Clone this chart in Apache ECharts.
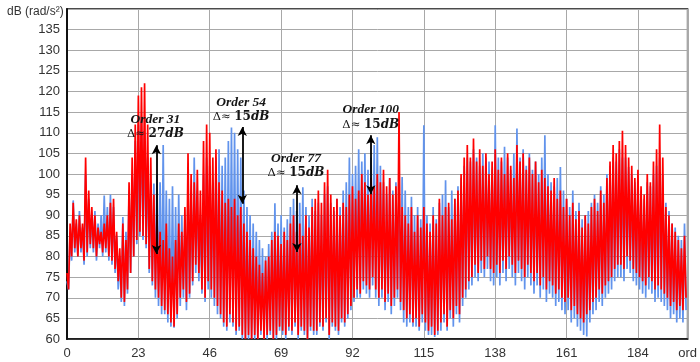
<!DOCTYPE html>
<html><head><meta charset="utf-8">
<script src="https://cdn.jsdelivr.net/npm/echarts@6/dist/echarts.min.js"></script>
<style>html,body{margin:0;padding:0;background:#fff}#c{width:700px;height:362px}</style>
</head><body><div id="c"></div>
<script>
// Order axis ticks
const xTicks = [0, 23, 46, 69, 92, 115, 138, 161, 184];
const yTicks = [60, 65, 70, 75, 80, 85, 90, 95, 100, 105, 110, 115, 120, 125, 130, 135];
// Red series: local peak at each order i, local trough at order i+0.5 (dB)
const redPeaks = [
 76, 88, 93, 89, 90, 88, 104, 96, 92, 90,
 87, 86, 88, 90, 93, 94, 86, 82, 88, 84,
 98, 104, 112, 119, 121, 122, 112, 104, 95, 90,
 86, 84, 88, 82, 80, 84, 88, 86, 92, 105,
 100, 98, 101, 96, 108, 112, 110, 104, 106, 98,
 96, 93, 94, 92, 94, 90, 92, 88, 86, 84,
 82, 80, 78, 76, 79, 80, 84, 86, 85, 83,
 86, 84, 88, 90, 86, 88, 85, 90, 87, 92,
 94, 96, 93, 98, 101, 95, 92, 94, 90, 93,
 92, 95, 97, 94, 96, 100, 98, 95, 99, 97,
 100, 98, 101, 97, 99, 95, 97, 115, 92, 90,
 88, 92, 86, 90, 87, 92, 88, 86, 90, 88,
 94, 90, 92, 93, 89, 94, 96, 100, 104, 107,
 104, 108.6, 103, 106, 102, 105, 100, 103, 106, 101,
 104, 100, 105, 102, 99, 107, 103, 105, 101, 104,
 100, 103, 98, 101, 99, 97, 96, 99, 94, 96,
 92, 94, 90, 93, 89, 91, 87, 90, 88, 92,
 94, 91, 96, 93, 99, 103, 107, 105, 108, 110.5,
 107, 104, 102, 99, 101, 97, 95, 100, 98, 103,
 106, 112, 104, 92, 90, 88, 86, 84, 82, 85
];
const redTroughs = [
 72, 80, 82, 80, 82, 79, 81, 83, 82, 80,
 83, 81, 82, 80, 79, 77, 74, 70, 69, 72,
 76, 80, 84, 86, 85, 83, 77, 74, 72, 70,
 68, 67, 66, 64, 63, 66, 70, 72, 69, 71,
 74, 78, 76, 72, 70, 74, 72, 70, 68, 66,
 64, 63, 66, 64, 62, 63, 61, 60, 61, 60,
 61, 60, 62, 60, 61, 62, 60, 61, 63, 62,
 61, 63, 62, 64, 61, 63, 62, 60, 63, 62,
 62, 64, 63, 65, 61, 64, 63, 62, 65, 64,
 66, 68, 70, 72, 71, 74, 73, 72, 75, 72,
 70, 72, 69, 71, 68, 70, 72, 69, 67, 65,
 66, 64, 65, 63, 66, 64, 62, 63, 61, 62,
 64, 66, 63, 67, 65, 68, 66, 70, 72, 74,
 75, 78, 76, 79, 77, 80, 77, 76, 78, 76,
 79, 77, 80, 78, 76, 79, 77, 75, 78, 76,
 74, 76, 73, 75, 72, 74, 73, 71, 72, 70,
 69, 70, 67, 68, 66, 65, 64, 66, 67, 69,
 70, 72, 71, 73, 74, 75, 77, 78, 78, 77,
 80, 79, 77, 76, 75, 74, 73, 75, 74, 72,
 73, 72, 71, 70, 68, 69, 67, 68, 67, 70
];
// Blue series
const bluePeaks = [
 74, 86, 93.6, 88, 91, 87, 100, 94, 90, 91,
 88, 90, 94.8, 92, 95, 92, 85, 80, 89.6, 86,
 96, 100, 108, 112, 114, 110, 104, 98, 97.7, 100,
 98, 107, 96, 94, 97, 92, 95, 90, 88, 96,
 94, 104, 96, 90, 100, 104, 102, 98, 104, 106,
 102, 104, 108, 111.3, 110, 106, 104, 96, 92, 90,
 88, 86, 84, 82, 80, 83, 86, 92.9, 88, 90,
 87, 89, 92, 94, 91, 93, 96.8, 92, 90, 94,
 91, 93, 90, 95, 97, 93, 91, 94, 92, 96,
 98, 104, 100, 102, 106, 103, 105, 101, 104, 107,
 108.9, 102, 98, 95, 99, 96, 98, 97, 99.3, 96,
 92, 94.5, 90, 92, 89, 111.8, 90, 88, 92, 89,
 93, 95, 98.5, 92, 96, 94, 97, 99, 102, 104,
 103, 106, 104, 102, 105, 104, 103, 101, 111.8, 104,
 103, 106.6, 104, 101, 105, 111, 104, 106, 102, 105,
 101, 103, 100, 104, 109.4, 100, 98, 97, 99, 101.7,
 96, 94, 92, 96, 91, 93, 89, 90, 91, 93,
 95, 93, 97, 95, 100, 102, 104, 103, 106, 104,
 104, 101.7, 100, 98, 99, 96, 94, 98, 97, 100,
 102, 104, 100, 93, 91, 88, 87, 85, 84, 88
];
const blueTroughs = [
 72, 79, 81, 80, 81, 78, 80, 82, 81, 79,
 82, 80, 81, 79, 78, 76, 72, 69, 68, 71,
 76, 80, 83, 85, 84, 82, 76, 73, 70, 68,
 66, 66, 64, 63, 62.7, 65, 68, 70, 67, 70,
 73, 76, 74, 71, 69, 72, 70, 68, 66, 65,
 63, 62, 64, 63, 61, 62, 60, 60, 60, 60,
 60, 60, 61, 60, 60, 61, 60, 60, 62, 61,
 60, 62, 61, 63, 60, 62, 61, 60, 62, 61,
 61, 63, 62, 64, 60, 63, 62, 61, 64, 63,
 65, 67, 69, 70, 70, 72, 71, 70, 73, 70,
 68, 70, 67, 69, 66, 68, 70, 67, 64, 63,
 64, 63, 63, 62, 64, 62, 61, 61, 60.5, 61,
 62, 64, 62, 65, 63, 66, 64, 68, 70, 72,
 73, 75, 74, 76, 75, 77, 74, 73, 75, 73,
 76, 74, 77, 75, 73, 76, 74, 72, 75, 73,
 71, 73, 70, 72, 69, 71, 70, 68, 69, 67,
 66, 67, 64, 65, 63, 62, 61, 60.6, 64, 66,
 67, 69, 68, 70, 71, 72, 74, 75, 75, 74,
 77, 76, 74, 73, 72, 71, 70, 72, 71, 69,
 70, 69, 68, 67, 65, 66, 64, 65, 64, 67
];
// Annotations (order, dB)
const annoLabels = ['Order 31', 'Order 54', 'Order 77', 'Order 100'];
const annoDelta = ['27', '15', '15', '15'];
const annoTextAt = [[28.5, 111.5], [56.1, 115.6], [73.8, 102.0], [97.9, 113.8]];
const arrowX = [28.8, 56.5, 74.1, 97.9];
const arrowTop = [107.0, 111.4, 97.3, 109.4];
const arrowBottom = [80.6, 92.8, 81.1, 95.1];

function build(peaks, troughs) {
  const out = [];
  for (let i = 0; i < peaks.length; i++) {
    out.push([i, peaks[i]]);
    out.push([i + 0.5, troughs[i]]);
  }
  return out;
}

const chart = echarts.init(document.getElementById('c'), null, {renderer: 'canvas'});
const txtFont = 'Liberation Sans, Arial, sans-serif';
const ink = '#151515';
chart.setOption({
  animation: false,
  backgroundColor: '#fff',
  title: {
    text: 'dB (rad/s\u00b2)', left: 2, top: 1,
    textStyle: {fontSize: 12, fontWeight: 'normal', color: '#333', fontFamily: txtFont}
  },
  grid: {left: 67, right: 12, top: 9, bottom: 23, show: true, borderColor: '#111', borderWidth: 1.5},
  xAxis: {
    type: 'value', min: 0, max: 200, interval: 23,
    axisLine: {show: true, lineStyle: {color: '#111', width: 1.5}},
    axisTick: {show: false},
    splitLine: {show: true, lineStyle: {color: '#a8a8a8', width: 1}},
    axisLabel: {
      color: '#333', fontSize: 13, fontFamily: txtFont, margin: 8,
      formatter: v => (v === 200 ? 'ord' : (xTicks.indexOf(v) >= 0 ? String(v) : ''))
    }
  },
  yAxis: {
    type: 'value', min: 60, max: 140, interval: 5,
    axisLine: {show: true, lineStyle: {color: '#111', width: 2}},
    axisTick: {show: false},
    splitLine: {show: true, lineStyle: {color: '#a8a8a8', width: 1}},
    axisLabel: {
      color: '#333', fontSize: 13, fontFamily: txtFont, margin: 7,
      formatter: v => (yTicks.indexOf(v) >= 0 ? String(v) : '')
    }
  },
  series: [
    {
      type: 'line', name: 'blue', data: build(bluePeaks, blueTroughs),
      showSymbol: false, symbol: 'none', lineStyle: {color: '#6193ec', width: 1.7},
      z: 2
    },
    {
      type: 'line', name: 'red', data: build(redPeaks, redTroughs),
      showSymbol: false, symbol: 'none', lineStyle: {color: '#ff0000', width: 1.7},
      z: 3
    },
    {
      type: 'line', name: 'anno', data: [], z: 5,
      markLine: {
        silent: true, symbol: ['arrow', 'arrow'], symbolSize: [7, 9],
        lineStyle: {color: '#000', width: 1.8, type: 'solid'},
        label: {show: false},
        data: arrowX.map((x, i) => [{coord: [x, arrowTop[i]]}, {coord: [x, arrowBottom[i]]}])
      },
      markPoint: {
        silent: true, symbol: 'circle', symbolSize: 0,
        data: annoLabels.map((t, i) => ({
          coord: annoTextAt[i],
          label: {
            show: true, position: 'inside',
            formatter: '{t|' + t + '}\n{d|\u0394\u2248 }{n|' + annoDelta[i] + '}{u|dB}',
            rich: {
              t: {fontFamily: 'Liberation Serif, serif', fontStyle: 'italic', fontWeight: 'bold', fontSize: 13.5, color: ink, lineHeight: 15, align: 'center'},
              d: {fontFamily: 'DejaVu Serif, serif', fontSize: 11.5, color: ink, lineHeight: 15},
              n: {fontFamily: 'DejaVu Serif, serif', fontWeight: 'bold', fontSize: 12, color: ink, lineHeight: 15},
              u: {fontFamily: 'DejaVu Serif, serif', fontStyle: 'italic', fontWeight: 'bold', fontSize: 12, color: ink, lineHeight: 15}
            }
          }
        }))
      }
    }
  ]
});
</script></body></html>
